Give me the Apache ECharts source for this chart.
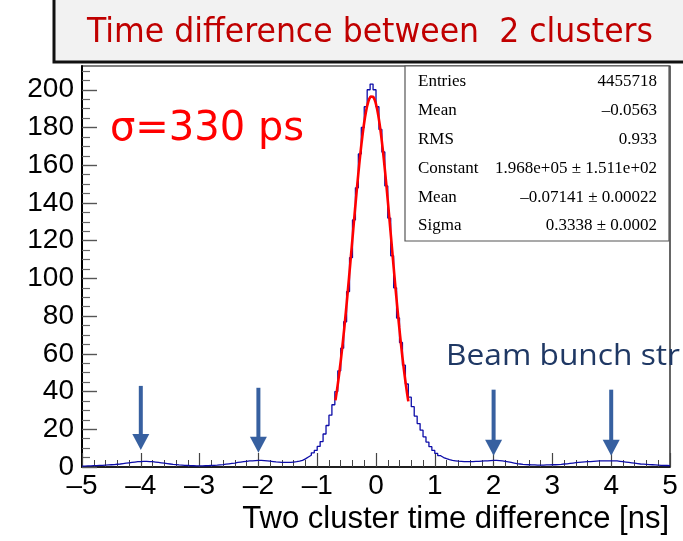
<!DOCTYPE html>
<html>
<head>
<meta charset="utf-8">
<script src="https://cdn.jsdelivr.net/npm/echarts@6/dist/echarts.min.js"></script>
<style>
  html, body { margin: 0; padding: 0; background: #ffffff; }
  #chart { width: 683px; height: 541px; }
</style>
</head>
<body>
<div id="chart"></div>
<script>
// Time difference between two clusters: counts (x10^3) per 0.05 ns bin, from -5 to 5 ns
const histRange = [-5, 5];
const histCounts = [
  // -5.0 .. -4.5
  0.5, 0.55, 0.6, 0.7, 0.75, 0.85, 0.9, 1.0, 1.1, 1.2,
  // -4.5 .. -4.0
  1.3, 1.45, 1.6, 1.8, 2.0, 2.2, 2.4, 2.6, 2.8, 2.9,
  // -4.0 .. -3.5
  3.0, 3.0, 2.9, 2.8, 2.6, 2.4, 2.2, 2.0, 1.8, 1.6,
  // -3.5 .. -3.0
  1.4, 1.25, 1.1, 1.0, 0.9, 0.8, 0.7, 0.65, 0.6, 0.6,
  // -3.0 .. -2.5
  0.6, 0.65, 0.7, 0.8, 0.9, 1.0, 1.15, 1.3, 1.5, 1.7,
  // -2.5 .. -2.0
  1.9, 2.1, 2.4, 2.6, 2.8, 3.0, 3.2, 3.3, 3.4, 3.5,
  // -2.0 .. -1.5
  3.5, 3.4, 3.3, 3.1, 2.9, 2.7, 2.6, 2.5, 2.4, 2.4,
  // -1.5 .. -1.3
  2.4, 2.6, 2.8, 3.1,
  // -1.3 .. -0.7
  3.5, 4.3, 5.3, 6.2, 7.5, 8.8, 10.9, 13.5, 17.5, 22, 27.5, 33,
  // -0.7 .. 0.65
  40, 51, 63, 77, 93, 111, 131, 148, 166, 180, 191, 200, 203, 200,
  191, 179, 167, 149, 132, 112, 95, 79, 66, 54, 44, 37, 32,
  // 0.65 .. 1.5
  27, 23, 19.5, 16, 13.2, 10.8, 8.8, 7.2, 6.0, 5.0, 4.4, 3.9, 3.5, 3.3, 3.1, 3.0, 2.9,
  // 1.5 .. 2.0
  2.9, 2.9, 2.9, 3.0, 3.0, 3.1, 3.2, 3.3, 3.4, 3.5,
  // 2.0 .. 2.5
  3.5, 3.4, 3.2, 3.0, 2.7, 2.4, 2.1, 1.8, 1.6, 1.4,
  // 2.5 .. 3.0
  1.3, 1.2, 1.1, 1.1, 1.0, 1.0, 1.0, 1.1, 1.1, 1.2,
  // 3.0 .. 3.5
  1.2, 1.3, 1.4, 1.6, 1.7, 1.9, 2.1, 2.3, 2.5, 2.6,
  // 3.5 .. 4.0
  2.7, 2.8, 2.9, 3.0, 3.1, 3.2, 3.2, 3.3, 3.3, 3.3,
  // 4.0 .. 4.5
  3.3, 3.2, 3.0, 2.8, 2.6, 2.4, 2.2, 2.0, 1.8, 1.6,
  // 4.5 .. 5.0
  1.5, 1.4, 1.3, 1.2, 1.1, 1.0, 0.9, 0.8, 0.8, 0.7
];

// Gaussian fit of the central peak (constant in units of 10^3)
const fitConstant = 196.8;
const fitMean = -0.07141;
const fitSigma = 0.3338;
const fitRange = [-0.69, 0.55];

// Axis ticks
const xTickValues = [-5, -4, -3, -2, -1, 0, 1, 2, 3, 4, 5];
const yTickLabels = [0, 20, 40, 60, 80, 100, 120, 140, 160, 180, 200];
const yMinorTicks = [5, 10, 15, 25, 30, 35, 45, 50, 55, 65, 70, 75, 85, 90, 95,
  105, 110, 115, 125, 130, 135, 145, 150, 155, 165, 170, 175, 185, 190, 195, 205, 210];
const yMax = 212.6;

// Beam bunch markers: position (ns), shaft top and arrow tip (x10^3 counts)
const arrowX = [-4, -2, 2, 4];
const arrowTop = [43, 42, 41, 41];
const arrowTip = [9, 7.5, 6, 6];

// Statistics box
const statNames = ['Entries', 'Mean', 'RMS', 'Constant', 'Mean', 'Sigma'];
const statValues = ['4455718', '\u20130.0563', '0.933', '1.968e+05 \u00b1 1.511e+02',
  '\u20130.07141 \u00b1 0.00022', '0.3338 \u00b1 0.0002'];

const titleText = 'Time difference between  2 clusters';
const sigmaText = '\u03c3=330 ps';
const bunchText = 'Beam bunch str';
const xAxisTitle = 'Two cluster time difference [ns]';

// ---- derived series ----
const binWidth = (histRange[1] - histRange[0]) / histCounts.length;
const stepData = histCounts.map((v, i) => [histRange[0] + i * binWidth, v]);
stepData.push([histRange[1], histCounts[histCounts.length - 1]]);

const fitData = [];
const fitSteps = 160;
for (let k = 0; k <= fitSteps; k++) {
  const x = fitRange[0] + (fitRange[1] - fitRange[0]) * k / fitSteps;
  const z = (x - fitMean) / fitSigma;
  fitData.push([x, fitConstant * Math.exp(-0.5 * z * z)]);
}

const measureCtx = document.createElement('canvas').getContext('2d');
function textWidth(txt, font) {
  measureCtx.font = font;
  return measureCtx.measureText(txt).width;
}

const titleFont = '33px "DejaVu Sans"';
const titleScale = 566 / textWidth(titleText, titleFont);
const bunchFont = '30px "Open Sans"';
const bunchScale = 234 / textWidth(bunchText, bunchFont);

const arrowColor = '#3760a0';
const axisFont = 'Liberation Sans';
const minusSign = v => (v < 0 ? '\u2013' + Math.abs(v) : String(v));

const statGraphics = [];
statNames.forEach((name, i) => {
  const y = 82 + i * 28.8;
  statGraphics.push({
    type: 'text', x: 418, y: y, z: 11,
    style: { text: name, fontFamily: 'Liberation Serif', fontSize: 17, fill: '#000',
      align: 'left', verticalAlign: 'middle' }
  });
  statGraphics.push({
    type: 'text', x: 657, y: y, z: 11,
    style: { text: statValues[i], fontFamily: 'Liberation Serif', fontSize: 17, fill: '#000',
      align: 'right', verticalAlign: 'middle' }
  });
});

const chart = echarts.init(document.getElementById('chart'), null, { renderer: 'canvas' });

chart.setOption({
  animation: false,
  backgroundColor: '#ffffff',
  grid: {
    left: 82, right: 13, top: 66, bottom: 74,
    show: true, borderColor: '#000', borderWidth: 1.2, backgroundColor: 'transparent'
  },
  xAxis: {
    type: 'value',
    min: histRange[0], max: histRange[1], interval: 1,
    axisLine: { onZero: false, lineStyle: { color: '#000', width: 1.6 } },
    axisTick: { inside: true, length: 14, lineStyle: { color: '#444', width: 1.2 } },
    minorTick: { show: true, splitNumber: 5, length: 7, lineStyle: { color: '#444', width: 1 } },
    splitLine: { show: false },
    axisLabel: {
      margin: 5, fontFamily: axisFont, fontSize: 28, color: '#000',
      formatter: minusSign, customValues: xTickValues
    }
  },
  yAxis: [
    {
      type: 'value', min: 0, max: yMax, position: 'left',
      axisLine: { show: true, onZero: false, lineStyle: { color: '#000', width: 2 } },
      axisTick: { show: true, inside: true, length: 15, customValues: yTickLabels,
        lineStyle: { color: '#555', width: 1.4 } },
      splitLine: { show: false },
      axisLabel: { margin: 8, fontFamily: axisFont, fontSize: 28, color: '#000',
        customValues: yTickLabels }
    },
    {
      type: 'value', min: 0, max: yMax, position: 'left',
      axisLine: { show: false, onZero: false },
      axisTick: { show: true, inside: true, length: 8, customValues: yMinorTicks,
        lineStyle: { color: '#666', width: 1.2 } },
      splitLine: { show: false },
      axisLabel: { show: false }
    }
  ],
  series: [
    {
      name: 'hist', type: 'line', data: stepData, step: 'end',
      showSymbol: false, symbol: 'none', z: 3,
      lineStyle: { color: '#0c0ca8', width: 1.3 }
    },
    {
      name: 'fit', type: 'line', data: fitData, smooth: false,
      showSymbol: false, symbol: 'none', z: 4,
      lineStyle: { color: '#ff0000', width: 2.6 }
    },
    {
      name: 'bunches', type: 'custom', z: 5,
      data: arrowX.map((x, i) => [x, arrowTop[i], arrowTip[i]]),
      encode: { x: 0, y: [1, 2] },
      renderItem: function (params, api) {
        const top = api.coord([api.value(0), api.value(1)]);
        const tip = api.coord([api.value(0), api.value(2)]);
        const headH = 16, headW = 17, shaftW = 4;
        return {
          type: 'group',
          children: [
            { type: 'rect',
              shape: { x: top[0] - shaftW / 2, y: top[1], width: shaftW, height: tip[1] - headH - top[1] + 1 },
              style: { fill: arrowColor } },
            { type: 'polygon',
              shape: { points: [[tip[0] - headW / 2, tip[1] - headH], [tip[0] + headW / 2, tip[1] - headH], [tip[0], tip[1]]] },
              style: { fill: arrowColor } }
          ]
        };
      }
    }
  ],
  graphic: [
    // title panel
    { type: 'rect', z: 10, shape: { x: 54, y: -10, width: 700, height: 72 },
      style: { fill: '#f2f2f2', stroke: '#111', lineWidth: 3 } },
    { type: 'text', z: 11, x: 87, y: 33, scaleX: titleScale,
      style: { text: titleText, fontFamily: 'DejaVu Sans', fontSize: 33, fill: '#c00000',
        align: 'left', verticalAlign: 'middle' } },
    // statistics panel
    { type: 'rect', z: 10, shape: { x: 405, y: 66, width: 264, height: 175 },
      style: { fill: '#ffffff', stroke: '#555', lineWidth: 1.2 } },
    ...statGraphics,
    // annotations
    { type: 'text', z: 11, x: 110, y: 130,
      style: { text: sigmaText, fontFamily: 'DejaVu Sans', fontSize: 40, fill: '#ff0000',
        align: 'left', verticalAlign: 'middle' } },
    { type: 'text', z: 11, x: 446, y: 356, scaleX: bunchScale,
      style: { text: bunchText, fontFamily: 'Open Sans', fontSize: 30, fill: '#1f3864',
        align: 'left', verticalAlign: 'middle' } },
    // x axis title
    { type: 'text', z: 11, x: 669, y: 519,
      style: { text: xAxisTitle, fontFamily: axisFont, fontSize: 31, fill: '#000',
        align: 'right', verticalAlign: 'middle' } }
  ]
});
</script>
</body>
</html>
